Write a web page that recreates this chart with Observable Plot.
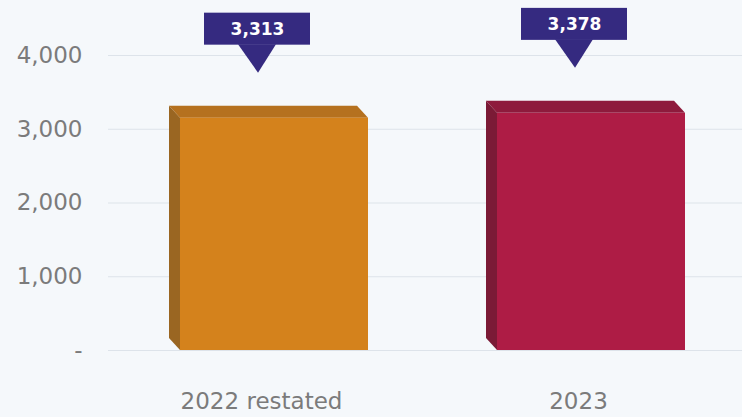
<!DOCTYPE html>
<html>
<head>
<meta charset="utf-8">
<script src="https://cdn.jsdelivr.net/npm/d3@7"></script>
<script src="https://cdn.jsdelivr.net/npm/@observablehq/plot@0.6"></script>
<style>
  html, body { margin: 0; padding: 0; background: #f5f8fb; }
  #chart { width: 742px; height: 417px; }
</style>
</head>
<body>
<div id="chart"></div>
<script>
const categories = ["2022 restated", "2023"];
const values = [3313, 3378];
const valueLabels = ["3,313", "3,378"];
const frontColors = ["#d4821c", "#ae1c45"];
const topColors = ["#b5711f", "#8e1a3c"];
const sideColors = ["#9a6622", "#7b1a36"];
const yTicks = [0, 1000, 2000, 3000, 4000];
const yTickLabels = ["-", "1,000", "2,000", "3,000", "4,000"];

const data = categories.map((c, i) => ({category: c, value: values[i], label: valueLabels[i], i}));

const DX = 11, DY = 12;
const CALLOUT = "#352a80";

function faces(index, scales) {
  const g = d3.create("svg:g");
  const w = scales.x.bandwidth();
  data.forEach((d, i) => {
    const x0 = scales.x(d.category);
    const yt = scales.y(d.value), yb = scales.y(0);
    g.append("polygon")
      .attr("points", [[x0 - DX, yt], [x0 + w - DX, yt], [x0 + w, yt + DY], [x0, yt + DY]].join(" "))
      .attr("fill", topColors[i]);
    g.append("polygon")
      .attr("points", [[x0 - DX, yt], [x0, yt + DY], [x0, yb], [x0 - DX, yb - DY]].join(" "))
      .attr("fill", sideColors[i]);
  });
  return g.node();
}

function callouts(index, scales) {
  const g = d3.create("svg:g");
  const w = scales.x.bandwidth();
  data.forEach((d) => {
    const cx = scales.x(d.category) + w / 2 - 17;
    const yv = scales.y(d.value);
    g.append("rect")
      .attr("x", cx - 53).attr("y", yv - 93).attr("width", 106).attr("height", 32)
      .attr("fill", CALLOUT);
    g.append("polygon")
      .attr("points", [[cx - 19, yv - 61.5], [cx + 19, yv - 61.5], [cx + 1, yv - 33]].join(" "))
      .attr("fill", CALLOUT);
  });
  return g.node();
}

const chart = Plot.plot({
  width: 742,
  height: 417,
  marginLeft: 108,
  marginRight: 0,
  marginTop: 55,
  marginBottom: 67,
  style: {background: "#f5f8fb", color: "#7b7b7b", fontFamily: "'DejaVu Sans', sans-serif"},
  x: {domain: categories, paddingInner: 0.406, paddingOuter: 0.2013, align: 0.5625, label: null},
  y: {domain: [0, 4000], label: null},
  marks: [
    Plot.gridY(yTicks, {stroke: "#dde3ea", strokeOpacity: 1, strokeWidth: 1.2}),
    faces,
    Plot.barY(data, {x: "category", y: "value", fill: (d) => frontColors[d.i], insetTop: DY}),
    callouts,
    Plot.text(data, {x: "category", y: "value", text: "label", dx: -17, dy: -77, fill: "white", fontWeight: "bold", fontSize: 17}),
    Plot.axisY(yTicks, {tickSize: 0, tickPadding: 26, fontSize: 23, tickFormat: (d) => yTickLabels[yTicks.indexOf(d)], label: null}),
    Plot.axisX({tickSize: 0, tickPadding: 42, dx: -13, fontSize: 23, label: null})
  ]
});
document.getElementById("chart").append(chart);
</script>
</body>
</html>
